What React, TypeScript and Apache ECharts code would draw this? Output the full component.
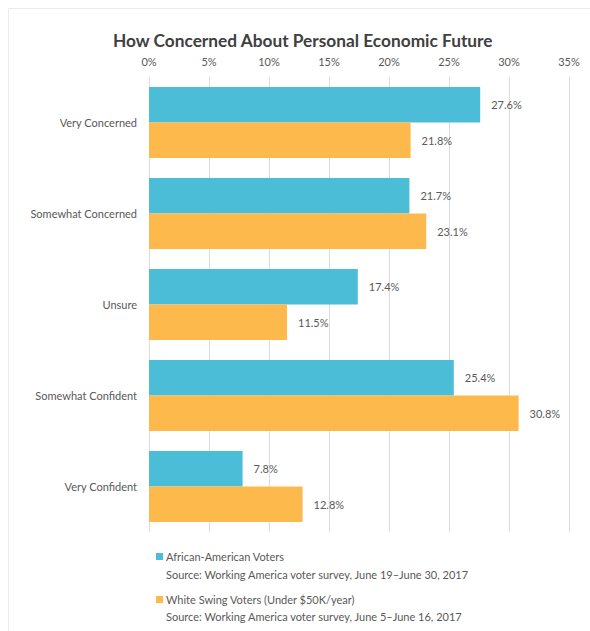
import React, { useEffect, useRef } from "react";
import * as echarts from "echarts";

const categories = ["Very Concerned", "Somewhat Concerned", "Unsure", "Somewhat Confident", "Very Confident"];
const africanAmerican = [27.6, 21.7, 17.4, 25.4, 7.8];
const whiteSwing = [21.8, 23.1, 11.5, 30.8, 12.8];
const xTicks = [0, 5, 10, 15, 20, 25, 30, 35];
const legendNames = ["African-American Voters", "White Swing Voters (Under $50K/year)"];
const legendSources = [
  "Source: Working America voter survey, June 19\u2013June 30, 2017",
  "Source: Working America voter survey, June 5\u2013June 16, 2017",
];

const BLUE = "#4bbdd7";
const ORANGE = "#fdb94b";
const FONT = "Lato, 'Open Sans', sans-serif";

export default function App() {
  const ref = useRef<HTMLDivElement>(null);
  useEffect(() => {
    const chart = echarts.init(ref.current!, null, { renderer: "svg" });
    const labelStyle = {
      show: true,
      position: "right" as const,
      distance: 11,
      color: "#595959",
      fontSize: 11,
      fontFamily: FONT,
      formatter: (p: any) => p.value.toFixed(1) + "%",
    };
    chart.setOption({
      animation: false,
      backgroundColor: "#ffffff",
      title: {
        text: "How Concerned About Personal Economic Future",
        left: 108,
        top: 27,
        textStyle: { fontSize: 17.3, fontWeight: "bold", color: "#404040", fontFamily: FONT },
      },
      grid: { left: 149, right: 21, top: 77, bottom: 99 },
      xAxis: {
        type: "value",
        position: "top",
        min: xTicks[0],
        max: xTicks[xTicks.length - 1],
        interval: 5,
        axisLine: { show: false },
        axisTick: { show: false },
        axisLabel: {
          formatter: (v: number) => v + "%",
          color: "#595959",
          fontSize: 11,
          fontFamily: FONT,
          margin: 10,
        },
        splitLine: { show: true, lineStyle: { color: "#dcdcdc", width: 1 } },
      },
      yAxis: {
        type: "category",
        data: categories,
        inverse: true,
        axisLine: { show: false },
        axisTick: { show: false },
        axisLabel: { color: "#595959", fontSize: 11, fontFamily: FONT, margin: 12 },
      },
      series: [
        {
          name: legendNames[0],
          type: "bar",
          data: africanAmerican,
          itemStyle: { color: BLUE },
          barGap: "0%",
          barCategoryGap: "22%",
          label: labelStyle,
        },
        {
          name: legendNames[1],
          type: "bar",
          data: whiteSwing,
          itemStyle: { color: ORANGE },
          label: labelStyle,
        },
      ],
      graphic: [
        {
          type: "rect",
          shape: { x: 8.5, y: 8.5, width: 600, height: 640 },
          style: { fill: "none", stroke: "#ececec", lineWidth: 1 },
        },
        { type: "rect", shape: { x: 156, y: 553, width: 7, height: 7 }, style: { fill: BLUE } },
        {
          type: "text",
          x: 166,
          y: 551,
          style: { text: legendNames[0], fill: "#595959", fontSize: 11, fontFamily: FONT },
        },
        {
          type: "text",
          x: 166,
          y: 569,
          style: { text: legendSources[0], fill: "#595959", fontSize: 11, fontFamily: FONT },
        },
        { type: "rect", shape: { x: 156, y: 596, width: 7, height: 7 }, style: { fill: ORANGE } },
        {
          type: "text",
          x: 166,
          y: 594,
          style: { text: legendNames[1], fill: "#595959", fontSize: 11, fontFamily: FONT },
        },
        {
          type: "text",
          x: 166,
          y: 611,
          style: { text: legendSources[1], fill: "#595959", fontSize: 11, fontFamily: FONT },
        },
      ],
    });
    return () => chart.dispose();
  }, []);
  return <div ref={ref} style={{ width: 590, height: 631, position: "absolute", left: 0, top: 0 }} />;
}
